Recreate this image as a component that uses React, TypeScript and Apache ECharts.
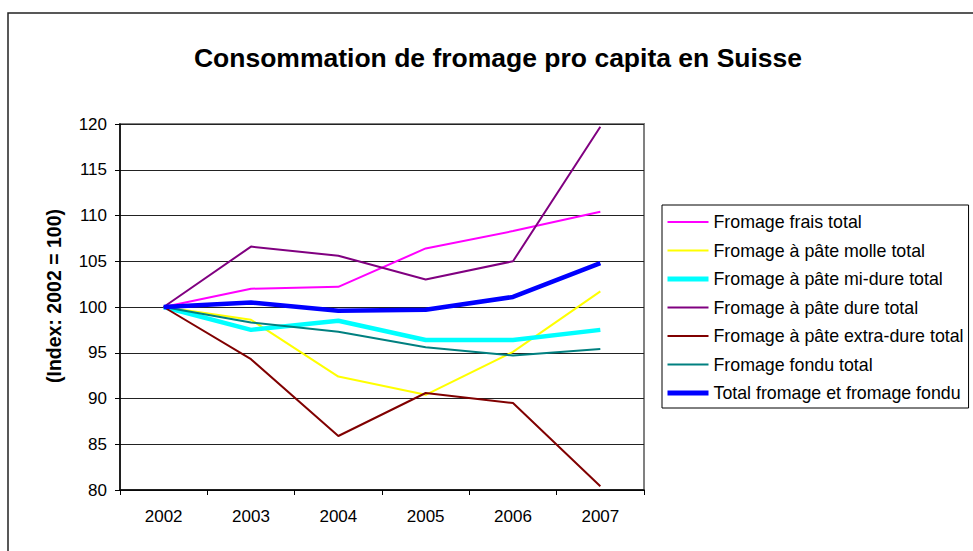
import React, { useEffect, useRef } from "react";
import * as echarts from "echarts";

const years = ["2002", "2003", "2004", "2005", "2006", "2007"];
const seriesNames = [
  "Fromage frais total",
  "Fromage à pâte molle total",
  "Fromage à pâte mi-dure total",
  "Fromage à pâte dure total",
  "Fromage à pâte extra-dure total",
  "Fromage fondu total",
  "Total fromage et fromage fondu",
];
const frais = [100, 102.0, 102.2, 106.4, 108.3, 110.4];
const molle = [100, 98.6, 92.4, 90.4, 95.1, 101.7];
const miDure = [100, 97.5, 98.5, 96.4, 96.4, 97.5];
const dure = [100, 106.6, 105.6, 103.0, 105.0, 119.7];
const extraDure = [100, 94.3, 85.9, 90.6, 89.5, 80.4];
const fondu = [100, 98.3, 97.3, 95.6, 94.7, 95.4];
const total = [100, 100.5, 99.6, 99.7, 101.1, 104.8];

const seriesData = [frais, molle, miDure, dure, extraDure, fondu, total];
const colors = ["#FF00FF", "#FFFF00", "#00FFFF", "#800080", "#800000", "#008080", "#0000FF"];
const widths = [2, 2, 4.5, 2, 2, 2, 4.5];

const FONT = 'Arial, "Liberation Sans", sans-serif';

export default function App() {
  const ref = useRef<HTMLDivElement>(null);
  useEffect(() => {
    if (!ref.current) return;
    const chart = echarts.init(ref.current, null, { renderer: "svg" });
    chart.setOption({
      animation: false,
      backgroundColor: "#ffffff",
      textStyle: { fontFamily: FONT },
      graphic: [
        {
          type: "rect",
          shape: { x: 8, y: 13, width: 975, height: 600 },
          style: { fill: "none", stroke: "#222", lineWidth: 1.5 },
          z: 0,
        },
        {
          type: "text",
          x: 498,
          y: 58,
          style: {
            text: "Consommation de fromage pro capita en Suisse",
            fontFamily: FONT,
            fontSize: 26.5,
            fontWeight: "bold",
            fill: "#000",
            align: "center",
            verticalAlign: "middle",
          },
        },
        {
          type: "text",
          x: 54,
          y: 296,
          rotation: Math.PI / 2,
          style: {
            text: "(Index: 2002 = 100)",
            fontFamily: FONT,
            fontSize: 19.5,
            fontWeight: "bold",
            fill: "#000",
            align: "center",
            verticalAlign: "middle",
          },
        },
      ],
      grid: {
        left: 120,
        top: 124,
        width: 524,
        height: 366,
        show: true,
        borderColor: "#808080",
        borderWidth: 2,
        backgroundColor: "transparent",
      },
      legend: {
        orient: "vertical",
        left: 662,
        top: 205,
        data: seriesNames.map((n, i) => ({
          name: n,
          lineStyle: { width: widths[i] === 2 ? 2 : 5, color: colors[i] },
        })),
        itemWidth: 41,
        itemHeight: 14,
        itemGap: 10.5,
        padding: [8, 5, 6, 3],
        borderColor: "#000",
        borderWidth: 1,
        itemStyle: { opacity: 0 },
        textStyle: { fontFamily: FONT, fontSize: 17.8, color: "#000" },
      },
      xAxis: {
        type: "category",
        data: years,
        boundaryGap: true,
        axisLine: { lineStyle: { color: "#000", width: 1.5 } },
        axisTick: { show: true, length: 5, inside: false, interval: 0, lineStyle: { color: "#000" } },
        axisLabel: { color: "#000", fontSize: 17, fontFamily: FONT, margin: 18 },
        splitLine: { show: false },
      },
      yAxis: {
        type: "value",
        min: 80,
        max: 120,
        interval: 5,
        axisLine: { show: true, lineStyle: { color: "#000", width: 1.5 } },
        axisTick: { show: true, length: 5, inside: false, lineStyle: { color: "#000" } },
        axisLabel: { color: "#000", fontSize: 17, fontFamily: FONT, margin: 13 },
        splitLine: { show: true, lineStyle: { color: "#222", width: 1 } },
      },
      series: seriesData.map((d, i) => ({
        name: seriesNames[i],
        type: "line",
        data: d,
        symbol: "none",
        showSymbol: false,
        color: colors[i],
        lineStyle: { color: colors[i], width: widths[i] },
        emphasis: { disabled: true },
      })),
    });
    return () => chart.dispose();
  }, []);
  return (
    <div
      ref={ref}
      style={{ position: "fixed", left: 0, top: 0, width: 973, height: 551 }}
    />
  );
}
